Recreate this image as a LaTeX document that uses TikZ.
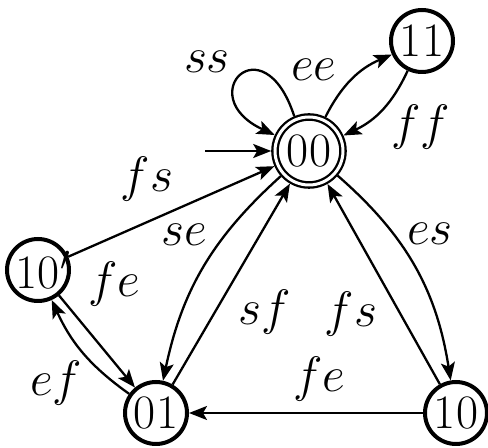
\documentclass[tikz,border=0pt]{standalone}
\usetikzlibrary{arrows.meta}
\newcommand\stfont{\fontsize{24}{29}\selectfont}
\newcommand\lbfont{\fontsize{23}{28}\selectfont}
\begin{document}
\begin{tikzpicture}[x=0.5pt,y=-0.5pt,
  state/.style={circle,draw,line width=2pt,minimum size=31pt,inner sep=0pt,font=\stfont},
  accstate/.style={circle,draw,line width=1.15pt,double,double distance=1.5pt,minimum size=34pt,inner sep=0pt,outer sep=1.9pt,font=\stfont},
  trans/.style={line width=1.15pt,-{Stealth[length=9pt,width=7pt,inset=2pt]}},
  lab/.style={font=\lbfont,inner sep=0pt}]
\useasboundingbox (0,0) rectangle (488,448);
\node[accstate] (n00) at (309,151) {00};
\node[state] (n11) at (422,41) {11};
\node[state] (n10p) at (38,270) {10\rlap{$'$}};
\node[state] (n01) at (156,413) {01};
\node[state] (n10) at (456,413) {10};
\coordinate (init) at (205,151);

\draw[trans] (init) -- (n00);
\draw[trans] (n00.113) .. controls +(108:50pt) and +(155:46pt) .. (n00.155);
\draw[trans] (n00) to[bend left=20] (n11);
\draw[trans] (n11) to[bend left=20] (n00);
\draw[trans] (n10p) -- (n00);
\draw[trans] (n00) to[bend right=18] (n01);
\draw[trans] (n01) -- (n00);
\draw[trans] (n00) to[bend left=20] (n10);
\draw[trans] (n10) -- (n00);
\draw[trans] (n10) -- (n01);
\draw[trans] (n10p) -- (n01);
\draw[trans] (n01) to[bend left=15] (n10p);

\node[lab] (lss) at (207,62) {$ss$};
\node[lab] (lee) at (314,70) {$ee$};
\node[lab] (lff) at (421,127) {$ff$};
\node[lab] (lfs1) at (147,179) {$fs$};
\node[lab] (lse) at (184,235) {$se$};
\node[lab] (lfe1) at (114,284) {$fe$};
\node[lab] (lef) at (56,383) {$ef$};
\node[lab] (lsf) at (265,312) {$sf$};
\node[lab] (lfs2) at (351,314) {$fs$};
\node[lab] (lfe2) at (319,379) {$fe$};
\node[lab] (les) at (430,234) {$es$};
\end{tikzpicture}
\end{document}
